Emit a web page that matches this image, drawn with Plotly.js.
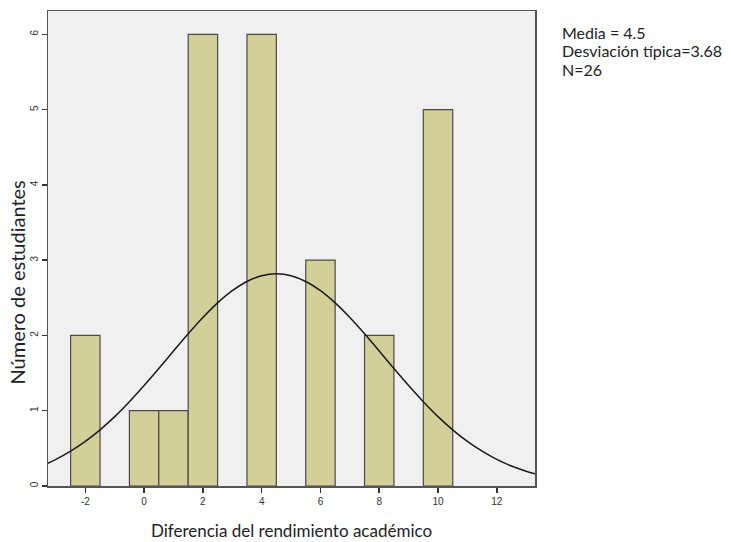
<!DOCTYPE html>
<html><head><meta charset="utf-8">
<script src="https://cdn.plot.ly/plotly-3.0.1.min.js"></script>
<style>html,body{margin:0;padding:0;background:#fff}</style>
</head><body>
<div id="chart" style="width:731px;height:542px"></div>
<script>
// Histogram bins (centre of each unit-wide bin) and counts
const binCenters = [-2, 0, 1, 2, 4, 6, 8, 10];
const counts = [2, 1, 1, 6, 6, 3, 2, 5];
// Normal curve
const curveX = [-3.3, -3, -2.5, -2, -1.5, -1, -0.5, 0, 0.5, 1, 1.5, 2, 2.5, 3, 3.5, 4, 4.5, 5, 5.5, 6, 6.5, 7, 7.5, 8, 8.5, 9, 9.5, 10, 10.5, 11, 11.5, 12, 12.5, 13, 13.3];
const curveY = [0.298, 0.353, 0.462, 0.592, 0.746, 0.922, 1.120, 1.335, 1.561, 1.793, 2.022, 2.238, 2.432, 2.594, 2.717, 2.793, 2.819, 2.793, 2.717, 2.594, 2.432, 2.238, 2.022, 1.793, 1.561, 1.335, 1.120, 0.922, 0.746, 0.592, 0.462, 0.353, 0.265, 0.196, 0.162];
const xTicks = [-2, 0, 2, 4, 6, 8, 10, 12];
const yTicks = [0, 1, 2, 3, 4, 5, 6];
const statsLines = ["Media = 4.5", "Desviación típica=3.68", "N=26"];
const xTitle = "Diferencia del rendimiento académico";
const yTitle = "Número de estudiantes";

const traces = [
  {type: 'bar', x: binCenters, y: counts, width: 1,
   marker: {color: '#D3CF99', line: {color: '#4a4a4a', width: 1.2}},
   hoverinfo: 'x+y'},
  {type: 'scatter', mode: 'lines', x: curveX, y: curveY,
   line: {color: '#1a1a1a', width: 1.5, shape: 'spline'}, hoverinfo: 'skip'}
];

const titleFont = {family: 'Lato, Carlito, sans-serif', color: '#222'};
const statsY = [0.955, 0.916, 0.877];

const annotations = statsLines.map((t, i) => ({
  xref: 'paper', yref: 'paper', x: 1.052, y: statsY[i],
  xanchor: 'left', yanchor: 'middle', align: 'left', showarrow: false,
  text: t, font: Object.assign({size: 16}, titleFont)
}));
annotations.push({
  xref: 'paper', yref: 'paper', x: -0.064, y: 0.428,
  xanchor: 'center', yanchor: 'middle', textangle: -90, showarrow: false,
  text: yTitle, font: Object.assign({size: 20}, titleFont)
});

const layout = {
  width: 731, height: 542,
  margin: {l: 48, r: 196, t: 11, b: 56},
  paper_bgcolor: '#ffffff',
  plot_bgcolor: '#F0F0F0',
  showlegend: false,
  bargap: 0,
  font: {family: 'Liberation Sans, Arial, sans-serif', color: '#333'},
  xaxis: {
    range: [-3.27, 13.3],
    tickvals: xTicks, ticktext: xTicks.map(String),
    ticks: 'outside', ticklen: 5, tickwidth: 1.5, tickcolor: '#333',
    showgrid: false, zeroline: false,
    showline: true, mirror: true, linecolor: '#555', linewidth: 1.5,
    tickfont: {size: 10, family: 'Liberation Sans, Arial, sans-serif', color: '#333'},
    title: {text: xTitle, font: Object.assign({size: 17}, titleFont), standoff: 19}
  },
  yaxis: {
    range: [0, 6.31],
    tickvals: yTicks, ticktext: yTicks.map(String),
    tickangle: -90,
    ticks: 'outside', ticklen: 5, tickwidth: 1.5, tickcolor: '#333',
    showgrid: false, zeroline: false,
    showline: true, mirror: true, linecolor: '#555', linewidth: 1.5,
    tickfont: {size: 10, family: 'Liberation Sans, Arial, sans-serif', color: '#333'}
  },
  annotations: annotations
};

Plotly.newPlot('chart', traces, layout, {displayModeBar: false, staticPlot: true});
</script>
</body></html>
